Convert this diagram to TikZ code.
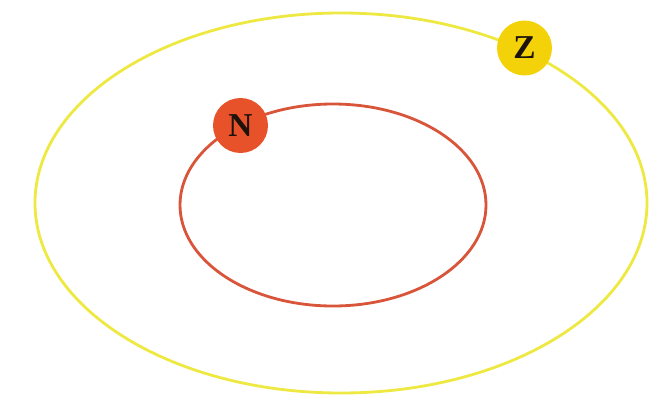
\documentclass[tikz,border=0pt]{standalone}
\usepackage{fontspec}
\setmainfont{Liberation Serif}

\definecolor{orbitred}{HTML}{D8553A}
\definecolor{orbityellow}{HTML}{EEE842}
\definecolor{nfill}{HTML}{E8522B}
\definecolor{zfill}{HTML}{F4D20A}

\tikzset{
    orbit/.style={line width=1.6pt},
    body/.style={circle, minimum size=1.1cm, inner sep=0pt,
        font=\fontsize{19}{20}\selectfont\bfseries, text=black!85!brown}
}

\begin{document}
\begin{tikzpicture}[x=0.02cm, y=-0.02cm]

    % Fix the margins of the picture
    \useasboundingbox (0,0) rectangle (663,403);

    % Define the centers of the two orbits
    \coordinate (O1) at (341,203);
    \coordinate (O2) at (333,205);

    % Draw the outer and inner orbits
    \draw[orbit, orbityellow] (O1) ellipse [x radius=306, y radius=190];
    \draw[orbit, orbitred] (O2) ellipse [x radius=153, y radius=101];

    % Bodies on the orbits
    \node[body, fill=nfill] (N) at (240.5,125.5) {N};
    \node[body, fill=zfill] (Z) at (524.5,48) {Z};

\end{tikzpicture}
\end{document}
